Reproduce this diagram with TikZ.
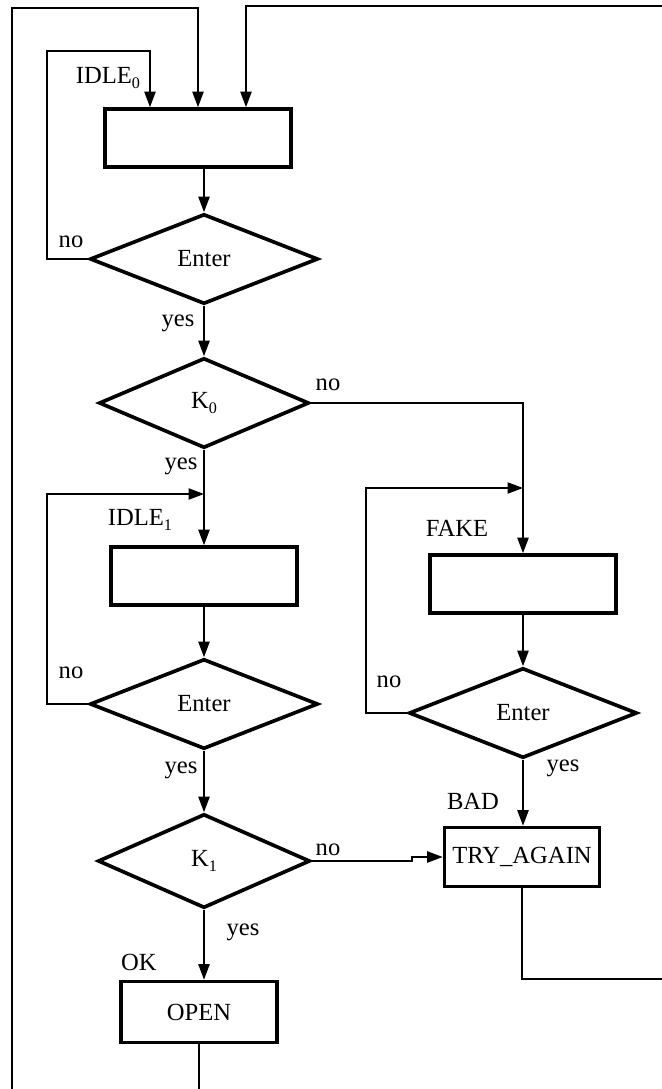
\documentclass[tikz,border=0pt]{standalone}
\usepackage{fontspec}
\setmainfont{Liberation Serif}
\usetikzlibrary{arrows.meta,shapes.geometric}

% lowered index for state names
\newcommand{\idx}[1]{\raisebox{-3.5pt}{\fontsize{11.5pt}{11.5pt}\selectfont #1}}

\tikzset{
  box/.style={draw, rectangle, line width=2.6pt, inner sep=0pt},
  test/.style={draw, diamond, line width=2.6pt, inner sep=0pt},
  arr/.style={line width=1.1pt, -{Triangle[length=11pt,width=8pt]}}
}

\begin{document}
\begin{tikzpicture}[x=0.025cm, y=-0.025cm, font=\fontsize{17.5pt}{21pt}\selectfont]
        \useasboundingbox (0,0) rectangle (662,1089);
        \clip (0,0) rectangle (662,1089);

        % main column
        \node[box, minimum width=4.65cm, minimum height=1.45cm] (idle0) at (198,138) {};
        \node[test, minimum width=5.7cm, minimum height=2.25cm] (enter0) at (204,259) {Enter};
        \node[test, minimum width=5.25cm, minimum height=2.25cm] (k0) at (204,403) {K\idx{0}};
        \node[box, minimum width=4.65cm, minimum height=1.45cm] (idle1) at (204,576) {};
        \node[test, minimum width=5.7cm, minimum height=2.25cm] (enter1) at (204,704) {Enter};
        \node[test, minimum width=5.3cm, minimum height=2.35cm] (k1) at (204,861) {K\idx{1}};
        \node[box, minimum width=3.9cm, minimum height=1.525cm] (open) at (199,1012) {OPEN};

        % right column
        \node[box, minimum width=4.65cm, minimum height=1.45cm] (fake) at (523,584) {};
        \node[test, minimum width=5.7cm, minimum height=2.25cm] (enter2) at (523,713) {Enter};
        \node[box, minimum width=3.875cm, minimum height=1.475cm] (again) at (522,857) {TRY\_AGAIN};

        % state names and branch labels
        \node (lidle0) at (108,78) {IDLE\idx{0}};
        \node (lidle1) at (140,520) {IDLE\idx{1}};
        \node (lfake) at (457,528) {FAKE};
        \node (lbad) at (473,801) {BAD};
        \node (lok) at (139,962) {OK};
        \node (no0) at (71,242) {no};
        \node (yes0) at (178,323) {yes};
        \node (no1) at (328,385) {no};
        \node (yes1) at (181,466) {yes};
        \node (no2) at (71,673) {no};
        \node (yes2) at (181,770) {yes};
        \node (no3) at (389,682) {no};
        \node (yes3) at (563,768) {yes};
        \node (no4) at (328,850) {no};
        \node (yes4) at (243,932) {yes};

        \coordinate (in0) at (150,51);
        \coordinate (in1) at (198,8);
        \coordinate (in2) at (246,6);
        \coordinate (back1) at (204,494);
        \coordinate (back2) at (523,488);

        % straight flow
        \draw[arr] (idle0.south -| enter0.north) -- (enter0.north);
        \draw[arr] (enter0.south) -- (k0.north);
        \draw[arr] (k0.south) -- (idle1.north);
        \draw[arr] (idle1.south) -- (enter1.north);
        \draw[arr] (enter1.south) -- (k1.north);
        \draw[arr] (k1.south) -- (k1.south |- open.north);
        \draw[arr] (fake.south) -- (enter2.north);
        \draw[arr] (enter2.south) -- (enter2.south |- again.north);
        \draw[arr] (k0.east) -| (fake.north);
        \draw[arr] (k1.east) -- (412,861) |- (again.west);

        % waiting loops
        \draw[arr] (enter0.west) -| (47,51) -- (in0) -- (idle0.north -| in0);
        \draw[arr] (enter1.west) -| (47,494) -- (back1);
        \draw[arr] (enter2.west) -| (366,488) -- (back2);

        % back to the start
        \draw[arr] (open.south) -- (199,1110) -| (12,8) -- (in1) -- (idle0.north -| in1);
        \draw[arr] (again.south) |- (670,979) |- (in2) -- (idle0.north -| in2);
\end{tikzpicture}
\end{document}
